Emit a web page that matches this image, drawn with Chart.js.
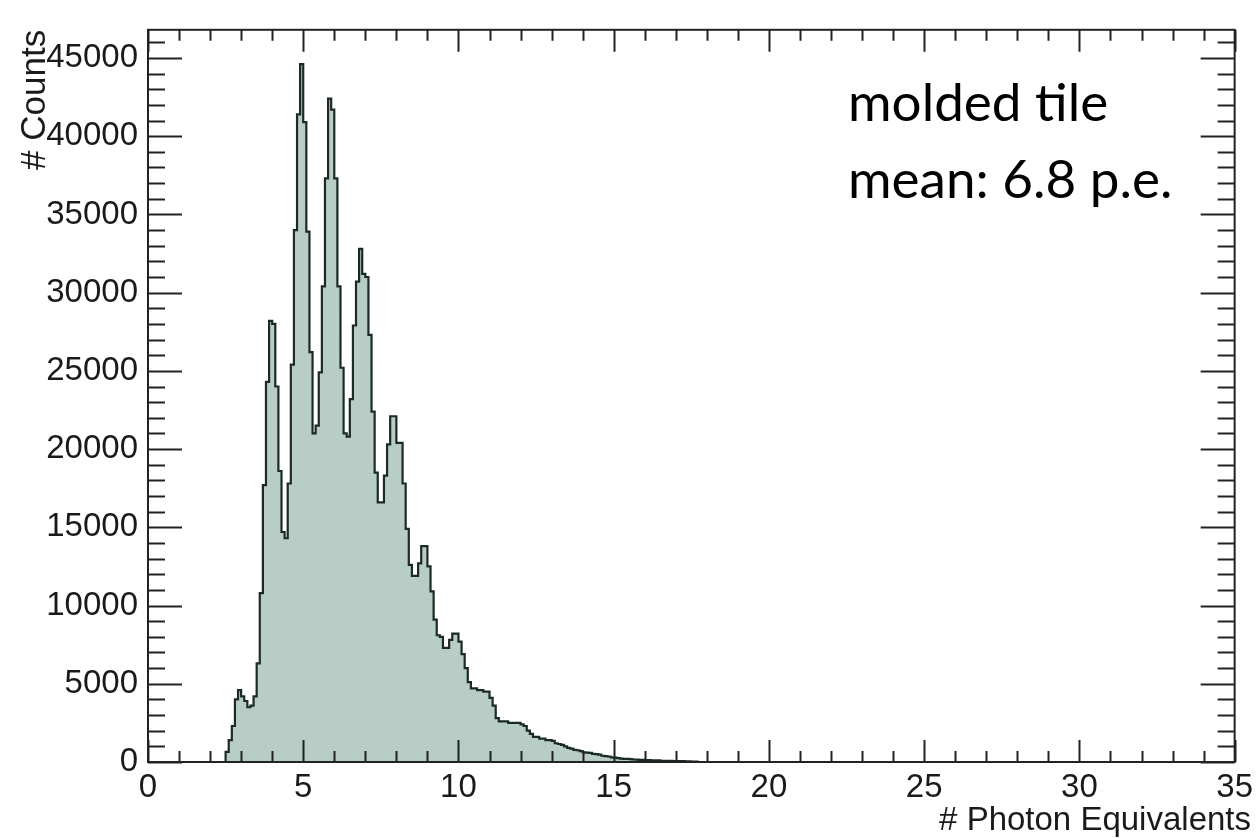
<!DOCTYPE html>
<html>
<head>
<meta charset="utf-8">
<title># Photon Equivalents</title>
<script src="https://cdn.jsdelivr.net/npm/chart.js@4.4.1/dist/chart.umd.min.js"></script>
<style>
  html, body { margin: 0; padding: 0; background: #ffffff; }
  #wrap { width: 1259px; height: 838px; position: relative; }
</style>
</head>
<body>
<div id="wrap"><canvas id="hist"></canvas></div>
<script>
/* Histogram: molded tile, photon equivalents. Bin width 0.1 p.e., first bin at 2.5 */

const binStart = 2.5;
const binWidth = 0.1;

// counts per bin (2.5 ... 17.7)
const counts = [
  100, 650, 1400, 2300, 4000, 4600, 4200, 3900, 3500, 3600,          // 2.5 - 3.4
  4200, 6300, 10800, 17700, 24300, 28200, 28000, 24000, 18600, 14700, // 3.5 - 4.4
  14300, 17800, 25400, 34000, 41400, 44600, 40900, 33900, 26200, 21000, // 4.5 - 5.4
  21500, 24900, 30400, 37300, 42400, 41700, 37300, 30400, 25200, 21000, // 5.5 - 6.4
  20800, 23200, 27900, 30700, 32800, 31200, 31000, 27300, 22400, 18500, // 6.5 - 7.4
  16600, 16600, 18300, 20300, 22100, 22100, 20400, 20400, 17800, 14900, // 7.5 - 8.4
  12600, 11900, 11900, 12700, 13800, 13800, 12500, 10900, 9100, 8100,   // 8.5 - 9.4
  8000, 7300, 7300, 7800, 8200, 8200, 7700, 6900, 6000, 5100,           // 9.5 - 10.4
  4700, 4700, 4600, 4600, 4500, 4500, 4100, 3600, 2800, 2600,           // 10.5 - 11.4
  2600, 2600, 2500, 2500, 2500, 2500, 2400, 2300, 2000, 1800,           // 11.5 - 12.4
  1600, 1600, 1500, 1500, 1400, 1400, 1350, 1200, 1150, 1100,           // 12.5 - 13.4
  1000, 900, 850, 780, 750, 700, 620, 600, 580, 520,                    // 13.5 - 14.4
  500, 470, 400, 370, 350, 300, 280, 250, 220, 200,                     // 14.5 - 15.4
  200, 180, 160, 150, 140, 130, 120, 120, 110, 100,                     // 15.5 - 16.4
  100, 80, 80, 70, 70, 60, 60, 50, 50, 40,                              // 16.5 - 17.4
  40, 30, 20                                                            // 17.5 - 17.7
];

const xTicks = [0, 5, 10, 15, 20, 25, 30, 35];
const yTicks = [0, 5000, 10000, 15000, 20000, 25000, 30000, 35000, 40000, 45000];
const xMax = 35;
const yMax = 46800;

const xTitle = '# Photon Equivalents';
const labelText = ['molded tile', 'mean: 6.8 p.e.'];

// step points: left edge of every bin, closed to zero at both ends
const points = [{ x: binStart, y: 0 }];
counts.forEach((c, i) => points.push({ x: binStart + i * binWidth, y: c }));
points.push({ x: binStart + counts.length * binWidth, y: 0 });

// ROOT-style frame: box with inward ticks on all four sides, x title, text box
const rootFrame = {
  id: 'rootFrame',
  afterDatasetsDraw(chart) {
    const { ctx, chartArea: a, scales: { x, y } } = chart;
    ctx.save();
    ctx.strokeStyle = '#222222';
    ctx.lineWidth = 2;
    ctx.beginPath();
    for (let v = 0; v <= xMax; v++) {
      const px = Math.round(x.getPixelForValue(v)) + 0.5;
      const len = v % 5 === 0 ? 22 : 11;
      ctx.moveTo(px, a.bottom); ctx.lineTo(px, a.bottom - len);
      ctx.moveTo(px, a.top); ctx.lineTo(px, a.top + len);
    }
    for (let v = 0; v <= yMax; v += 1000) {
      const py = Math.round(y.getPixelForValue(v)) + 0.5;
      const len = v % 5000 === 0 ? 34 : 17;
      ctx.moveTo(a.left, py); ctx.lineTo(a.left + len, py);
      ctx.moveTo(a.right, py); ctx.lineTo(a.right - len, py);
    }
    ctx.stroke();
    ctx.strokeRect(a.left, a.top, a.right - a.left, a.bottom - a.top);

    // axis title, right-aligned to the canvas edge like the ROOT original
    ctx.fillStyle = '#1a1a1a';
    ctx.font = '33px "Liberation Sans"';
    ctx.textAlign = 'right';
    ctx.textBaseline = 'alphabetic';
    ctx.fillText(xTitle, 1251, 830);

    ctx.fillStyle = '#000000';
    ctx.font = '53px Lato';
    ctx.textAlign = 'left';
    ctx.fillText(labelText[0], 848, 121);
    ctx.fillText(labelText[1], 848, 198);
    ctx.restore();
  }
};

new Chart(document.getElementById('hist'), {
  type: 'line',
  data: {
    datasets: [{
      data: points,
      stepped: 'after',
      borderColor: '#1c2a26',
      borderWidth: 2.2,
      backgroundColor: '#b7cdc5',
      fill: 'origin',
      pointRadius: 0,
      tension: 0,
    }],
  },
  options: {
    responsive: true,
    maintainAspectRatio: false,
    animation: false,
    layout: { padding: { top: 17, right: 17, left: 0, bottom: 0 } },
    plugins: { legend: { display: false }, tooltip: { enabled: false } },
    scales: {
      x: {
        type: 'linear',
        min: 0,
        max: xMax,
        afterFit: (s) => { s.height = 76; },
        afterBuildTicks: (s) => { s.ticks = xTicks.map((v) => ({ value: v })); },
        grid: { display: false, drawTicks: false },
        border: { display: false },
        ticks: {
          padding: 6,
          maxRotation: 0,
          autoSkip: false,
          color: '#1a1a1a',
          callback: (v) => String(v),
          font: { family: 'Liberation Sans', size: 33 },
        },
      },
      y: {
        type: 'linear',
        min: 0,
        max: yMax,
        afterFit: (s) => { s.width = 148; },
        afterBuildTicks: (s) => { s.ticks = yTicks.map((v) => ({ value: v })); },
        grid: { display: false, drawTicks: false },
        border: { display: false },
        ticks: {
          padding: 10,
          autoSkip: false,
          color: '#1a1a1a',
          callback: (v) => String(v),
          font: { family: 'Liberation Sans', size: 33 },
        },
        title: {
          display: true,
          text: '# Counts',
          align: 'end',
          color: '#1a1a1a',
          padding: { top: 14, bottom: 0 },
          font: { family: 'Liberation Sans', size: 35 },
        },
      },
    },
  },
  plugins: [rootFrame],
});
</script>
</body>
</html>
